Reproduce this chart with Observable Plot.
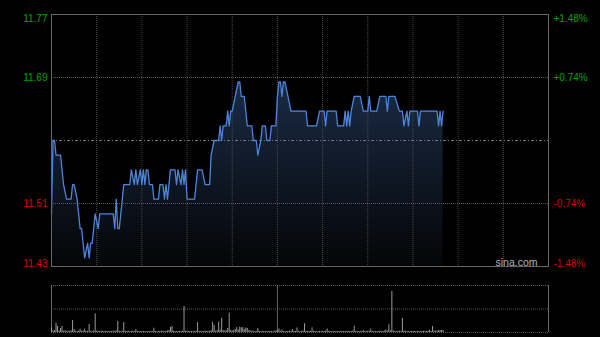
<!DOCTYPE html>
<html>
<head>
<meta charset="utf-8">
<script src="https://cdn.jsdelivr.net/npm/d3@7"></script>
<script src="https://cdn.jsdelivr.net/npm/@observablehq/plot@0.6"></script>
<style>
  html, body { margin: 0; padding: 0; background: #000; }
  #chart { width: 600px; height: 337px; background: #000; overflow: hidden; }
  #chart svg { display: block; }
</style>
</head>
<body>
<div id="chart"></div>
<script>
// ---- data ----
const prevClose = 11.60;
const pctLevels = [0.0148, 0.0074, -0.0074, -0.0148];
const priceLabels = ["11.77", "11.69", "11.51", "11.43"];
const pctLabels = ["+1.48%", "+0.74%", "-0.74%", "-1.48%"];
const sessionMinutes = 330;
const timeGrid = [30, 60, 90, 120, 150, 180, 210, 240, 270, 300];
const lunchMinute = 150;

// price vertices (minute index since 09:30, price)
const priceMinutes = [0,1,2,3,6,7,8,10,13,14,15,17,18,19,20,21,22,24,25,26,27,28,29,31,32,41,42,43,44,45,47,48,52,53,55,56,57,59,60,61,62,63,64,65,67,68,71,72,74,75,76,77,78,79,82,83,84,86,87,88,89,90,95,97,100,102,105,106,108,111,112,113,114,116,117,118,119,120,122,124,125,126,128,129,130,133,134,136,137,139,140,142,143,145,146,149,150,151,152,153,154,155,157,159,169,170,176,178,181,182,183,189,190,194,195,196,197,198,199,201,205,207,210,211,212,216,218,222,223,224,228,231,233,234,236,237,238,243,244,245,256,257,258,259,260];
const prices = [11.50,11.60,11.60,11.58,11.58,11.56,11.54,11.52,11.52,11.54,11.54,11.52,11.50,11.48,11.48,11.46,11.44,11.46,11.44,11.46,11.46,11.48,11.50,11.48,11.50,11.50,11.48,11.52,11.48,11.48,11.52,11.54,11.54,11.56,11.54,11.56,11.54,11.56,11.54,11.56,11.54,11.56,11.56,11.54,11.54,11.52,11.52,11.54,11.54,11.52,11.54,11.52,11.54,11.56,11.56,11.54,11.56,11.54,11.56,11.54,11.56,11.52,11.52,11.56,11.56,11.54,11.54,11.58,11.60,11.60,11.62,11.60,11.62,11.62,11.64,11.62,11.64,11.64,11.66,11.68,11.68,11.66,11.66,11.64,11.62,11.62,11.60,11.60,11.58,11.60,11.62,11.62,11.60,11.60,11.62,11.62,11.66,11.68,11.68,11.66,11.68,11.68,11.66,11.64,11.64,11.62,11.62,11.64,11.64,11.62,11.64,11.64,11.62,11.62,11.64,11.62,11.64,11.62,11.64,11.66,11.66,11.64,11.64,11.66,11.64,11.64,11.66,11.66,11.64,11.66,11.66,11.64,11.64,11.62,11.64,11.62,11.64,11.64,11.62,11.64,11.64,11.62,11.64,11.62,11.64];

// per-minute volume (arbitrary units)
const volumes = [
  47,15,20,93,60,15,40,60,12,18,10,14,12,16,120,30,12,10,14,33,12,15,33,10,14,80,12,10,16,187,
  15,12,10,14,12,10,13,9,12,10,11,14,12,16,110,12,10,14,100,12,10,13,9,12,14,10,30,12,10,11,
  9,12,10,8,11,9,12,10,43,11,9,12,10,14,11,9,12,15,20,50,60,12,10,9,11,10,12,14,260,12,
  15,10,9,11,12,10,13,100,12,10,11,9,14,12,10,13,18,103,70,14,20,103,25,143,20,15,18,40,193,20,
  15,22,30,50,25,55,45,50,30,45,40,20,15,12,14,10,12,40,11,9,12,10,11,9,12,10,11,9,12,14,
  20,35,12,25,10,12,9,11,14,10,30,12,10,45,11,9,12,15,87,12,10,14,11,47,12,10,9,11,12,10,
  11,9,14,35,12,10,9,11,10,12,9,11,10,12,9,11,10,12,11,10,14,63,12,10,9,11,12,20,10,11,
  12,14,35,11,9,12,10,11,14,9,12,15,25,14,77,18,410,15,12,10,11,14,12,143,15,12,10,11,9,12,
  10,11,9,12,10,11,9,12,10,11,14,20,12,60,14,12,15,18,20,20,20
];
const volMax = 470;

// ---- derived tables ----
const yMin = prevClose * (1 + pctLevels[3]);
const yMax = prevClose * (1 + pctLevels[0]);
const priceData = priceMinutes.map((m, i) => ({m, p: prices[i], base: yMin}));
const volData = volumes.map((v, i) => ({m: i, v}));
const GREEN = "#00a400", RED = "#d00000";
const levelData = pctLevels.map((p, i) => ({
  v: prevClose * (1 + p), left: priceLabels[i], right: pctLabels[i],
  c: p > 0 ? GREEN : RED, pos: i === 0 ? "top" : i === pctLevels.length - 1 ? "bottom" : "middle"
}));

const font = "'Liberation Sans', Arial, sans-serif";
const defs = () => {
  const d = d3.create("svg:defs");
  const g = d.append("linearGradient").attr("id", "areaGrad").attr("x1", 0).attr("y1", 0).attr("x2", 0).attr("y2", 1);
  g.append("stop").attr("offset", "0%").attr("stop-color", "#1a2b45");
  g.append("stop").attr("offset", "100%").attr("stop-color", "#040507");
  return d.node();
};

function labelMarks(pos, anchor) {
  const f = levelData.filter(d => d.pos === pos);
  return [
    Plot.text(f, {x: 0, y: "v", text: "left", fill: "c", textAnchor: "end", dx: -4, lineAnchor: anchor}),
    Plot.text(f, {x: sessionMinutes, y: "v", text: "right", fill: "c", textAnchor: "start", dx: 5, lineAnchor: anchor})
  ];
}

const main = Plot.plot({
  width: 600, height: 270,
  marginLeft: 51, marginRight: 52, marginTop: 14, marginBottom: 4,
  style: {background: "#000", fontFamily: font, fontSize: "10px", overflow: "visible"},
  x: {domain: [0, sessionMinutes], axis: null},
  y: {domain: [yMin, yMax], axis: null},
  color: {type: "identity"},
  marks: [
    defs,
    Plot.areaY(priceData, {x: "m", y1: "base", y2: "p", fill: "url(#areaGrad)", curve: "linear"}),
    Plot.ruleX(timeGrid, {stroke: "#4a4a4a", strokeDasharray: "1,1"}),
    Plot.ruleY([levelData[1].v, levelData[2].v], {stroke: "#5a5a5a", strokeDasharray: "1,1"}),
    Plot.ruleY([prevClose], {stroke: "#777", strokeDasharray: "3,2,1,2"}),
    Plot.lineY(priceData, {x: "m", y: "p", stroke: "#4d84da", strokeWidth: 1.3, curve: "linear"}),
    Plot.frame({stroke: "#666"}),
    ...labelMarks("top", "top"),
    ...labelMarks("middle", "middle"),
    ...labelMarks("bottom", "bottom"),
    Plot.text(["sina.com"], {frameAnchor: "bottom-right", dx: -11, dy: -1, lineAnchor: "bottom", fill: "#b0b0b0", fontSize: 10.5})
  ]
});

const vol = Plot.plot({
  width: 600, height: 67,
  marginLeft: 51, marginRight: 52, marginTop: 15, marginBottom: 5,
  style: {background: "#000", fontFamily: font, fontSize: "10px"},
  x: {domain: [0, sessionMinutes], axis: null},
  y: {domain: [0, volMax], axis: null},
  marks: [
    Plot.ruleY([0, volMax / 2, volMax], {stroke: "#5a5a5a", strokeDasharray: "1,1"}),
    Plot.ruleX([0, sessionMinutes, lunchMinute], {stroke: "#666"}),
    Plot.ruleX(volData, {x: "m", y1: 0, y2: "v", stroke: "#9a9a9a", strokeWidth: 1})
  ]
});

const root = document.getElementById("chart");
root.appendChild(main);
root.appendChild(vol);
</script>
</body>
</html>
